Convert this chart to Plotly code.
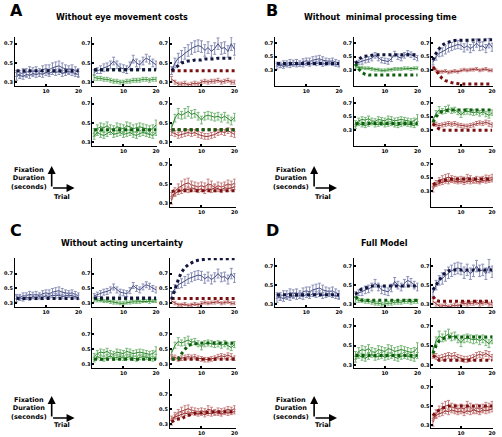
import plotly.graph_objects as go

trials = list(range(1, 21))

# ---------------- experimental data (same in every panel) ----------------
blue_bb1 = [0.36, 0.38, 0.40, 0.40, 0.42, 0.41, 0.42, 0.40, 0.43, 0.44, 0.43, 0.45, 0.46, 0.47, 0.45, 0.44, 0.43, 0.44, 0.42, 0.40]
blue_bb2 = [0.39, 0.37, 0.36, 0.38, 0.37, 0.39, 0.38, 0.39, 0.38, 0.40, 0.39, 0.41, 0.40, 0.41, 0.39, 0.40, 0.41, 0.40, 0.39, 0.38]
err_bb1 = [0.04, 0.04, 0.04, 0.04, 0.04, 0.04, 0.04, 0.04, 0.04, 0.04, 0.05, 0.05, 0.05, 0.05, 0.05, 0.04, 0.04, 0.04, 0.04, 0.04]
err_bb2 = [0.03, 0.03, 0.03, 0.03, 0.03, 0.03, 0.03, 0.03, 0.03, 0.03, 0.03, 0.03, 0.03, 0.03, 0.03, 0.03, 0.03, 0.03, 0.03, 0.03]

blue_bg = [0.40, 0.42, 0.43, 0.45, 0.46, 0.48, 0.52, 0.48, 0.45, 0.44, 0.43, 0.47, 0.54, 0.50, 0.48, 0.52, 0.55, 0.53, 0.50, 0.48]
green_bg = [0.35, 0.34, 0.34, 0.33, 0.33, 0.32, 0.31, 0.31, 0.30, 0.30, 0.31, 0.31, 0.32, 0.32, 0.32, 0.33, 0.33, 0.32, 0.33, 0.33]
err_blue_bg = [0.03, 0.03, 0.04, 0.04, 0.04, 0.04, 0.04, 0.04, 0.04, 0.04, 0.04, 0.04, 0.04, 0.04, 0.04, 0.04, 0.04, 0.04, 0.04, 0.04]
err_green_bg = [0.03, 0.02, 0.02, 0.02, 0.02, 0.02, 0.02, 0.02, 0.02, 0.02, 0.02, 0.02, 0.02, 0.02, 0.02, 0.02, 0.02, 0.02, 0.02, 0.02]

blue_br = [0.42, 0.50, 0.55, 0.57, 0.60, 0.63, 0.65, 0.67, 0.68, 0.67, 0.63, 0.66, 0.62, 0.65, 0.70, 0.65, 0.66, 0.62, 0.70, 0.64]
red_br = [0.33, 0.30, 0.28, 0.28, 0.29, 0.27, 0.28, 0.29, 0.28, 0.30, 0.31, 0.30, 0.31, 0.31, 0.32, 0.30, 0.31, 0.32, 0.30, 0.30]
err_blue_br = [0.04, 0.05, 0.05, 0.06, 0.06, 0.06, 0.06, 0.06, 0.06, 0.06, 0.06, 0.06, 0.06, 0.06, 0.06, 0.06, 0.06, 0.06, 0.07, 0.06]
err_red_br = [0.03, 0.02, 0.02, 0.02, 0.02, 0.02, 0.02, 0.02, 0.02, 0.02, 0.02, 0.02, 0.02, 0.02, 0.02, 0.02, 0.02, 0.02, 0.02, 0.02]

green_gg1 = [0.40, 0.44, 0.46, 0.45, 0.47, 0.44, 0.43, 0.46, 0.45, 0.44, 0.47, 0.46, 0.44, 0.45, 0.46, 0.45, 0.44, 0.43, 0.44, 0.48]
green_gg2 = [0.36, 0.40, 0.38, 0.37, 0.39, 0.41, 0.38, 0.39, 0.40, 0.38, 0.39, 0.40, 0.38, 0.37, 0.39, 0.40, 0.39, 0.38, 0.37, 0.40]
err_gg1 = [0.04, 0.04, 0.04, 0.04, 0.04, 0.04, 0.04, 0.04, 0.04, 0.04, 0.04, 0.04, 0.04, 0.04, 0.04, 0.04, 0.04, 0.04, 0.04, 0.05]
err_gg2 = [0.03, 0.03, 0.03, 0.03, 0.03, 0.03, 0.03, 0.03, 0.03, 0.03, 0.03, 0.03, 0.03, 0.03, 0.03, 0.03, 0.03, 0.03, 0.03, 0.03]

green_gr = [0.45, 0.55, 0.60, 0.58, 0.60, 0.62, 0.59, 0.60, 0.57, 0.53, 0.57, 0.58, 0.57, 0.56, 0.57, 0.55, 0.57, 0.54, 0.52, 0.56]
red_gr = [0.40, 0.39, 0.37, 0.38, 0.39, 0.40, 0.39, 0.40, 0.38, 0.37, 0.36, 0.36, 0.37, 0.38, 0.40, 0.41, 0.40, 0.42, 0.40, 0.38]
err_green_gr = [0.04, 0.04, 0.05, 0.04, 0.05, 0.05, 0.04, 0.04, 0.04, 0.04, 0.04, 0.04, 0.04, 0.04, 0.04, 0.04, 0.04, 0.04, 0.04, 0.04]
err_red_gr = [0.03, 0.03, 0.03, 0.03, 0.03, 0.03, 0.03, 0.03, 0.03, 0.03, 0.03, 0.03, 0.03, 0.03, 0.03, 0.03, 0.03, 0.03, 0.04, 0.03]

red_rr1 = [0.33, 0.42, 0.46, 0.48, 0.50, 0.51, 0.49, 0.48, 0.47, 0.48, 0.47, 0.50, 0.49, 0.46, 0.48, 0.47, 0.48, 0.50, 0.49, 0.51]
red_rr2 = [0.38, 0.40, 0.42, 0.43, 0.45, 0.44, 0.46, 0.45, 0.44, 0.45, 0.43, 0.45, 0.44, 0.46, 0.45, 0.44, 0.46, 0.45, 0.46, 0.47]
err_rr1 = [0.04, 0.04, 0.04, 0.05, 0.05, 0.05, 0.04, 0.04, 0.04, 0.04, 0.04, 0.05, 0.04, 0.04, 0.04, 0.04, 0.04, 0.04, 0.04, 0.04]
err_rr2 = [0.03, 0.03, 0.03, 0.03, 0.03, 0.03, 0.03, 0.03, 0.03, 0.03, 0.03, 0.03, 0.03, 0.03, 0.03, 0.03, 0.03, 0.03, 0.03, 0.03]

# ---------------- model predictions ----------------
# Panel A: without eye movement costs
A_bb = [0.42] * 20
A_bg_blue = [0.43] * 20
A_bg_green = [0.43] * 20
A_br_blue = [0.42, 0.45, 0.48, 0.50, 0.51, 0.52, 0.52, 0.53, 0.53, 0.53, 0.54, 0.54, 0.54, 0.54, 0.55, 0.55, 0.55, 0.55, 0.55, 0.55]
A_br_red = [0.42] * 20
A_gg = [0.43] * 20
A_gr_green = [0.43] * 20
A_gr_red = [0.43] * 20
A_rr = [0.42, 0.43, 0.43, 0.43, 0.43, 0.43, 0.43, 0.43, 0.43, 0.43, 0.43, 0.43, 0.43, 0.43, 0.43, 0.43, 0.43, 0.43, 0.43, 0.43]

# Panel B: without minimal processing time
B_bb = [0.40] * 20
B_bg_blue = [0.40, 0.46, 0.50, 0.51, 0.52, 0.52, 0.53, 0.53, 0.53, 0.53, 0.53, 0.53, 0.53, 0.53, 0.53, 0.53, 0.53, 0.53, 0.53, 0.53]
B_bg_green = [0.40, 0.32, 0.27, 0.24, 0.23, 0.23, 0.23, 0.23, 0.23, 0.23, 0.23, 0.23, 0.23, 0.23, 0.23, 0.23, 0.23, 0.23, 0.23, 0.23]
B_br_blue = [0.45, 0.55, 0.62, 0.67, 0.70, 0.72, 0.73, 0.74, 0.74, 0.75, 0.75, 0.75, 0.75, 0.75, 0.75, 0.75, 0.75, 0.75, 0.75, 0.75]
B_br_red = [0.35, 0.30, 0.23, 0.18, 0.15, 0.13, 0.12, 0.11, 0.10, 0.10, 0.10, 0.10, 0.10, 0.10, 0.10, 0.10, 0.10, 0.10, 0.10, 0.10]
B_gg = [0.40] * 20
B_gr_green = [0.42, 0.50, 0.55, 0.58, 0.59, 0.60, 0.60, 0.60, 0.60, 0.60, 0.60, 0.60, 0.60, 0.60, 0.60, 0.60, 0.60, 0.60, 0.60, 0.60]
B_gr_red = [0.40, 0.35, 0.32, 0.30, 0.30, 0.30, 0.30, 0.30, 0.30, 0.30, 0.30, 0.30, 0.30, 0.30, 0.30, 0.30, 0.30, 0.30, 0.30, 0.30]
B_rr = [0.40, 0.43, 0.45, 0.46, 0.47, 0.48, 0.48, 0.48, 0.48, 0.48, 0.48, 0.48, 0.48, 0.48, 0.48, 0.48, 0.48, 0.48, 0.48, 0.48]

# Panel C: without acting uncertainty
C_bb = [0.365] * 20
C_bg_blue = [0.37] * 20
C_bg_green = [0.36] * 20
C_br_blue = [0.35, 0.50, 0.62, 0.72, 0.78, 0.82, 0.85, 0.87, 0.88, 0.89, 0.89, 0.90, 0.90, 0.90, 0.90, 0.90, 0.90, 0.90, 0.90, 0.90]
C_br_red = [0.365] * 20
C_gg = [0.367] * 20
C_gr_green = [0.37, 0.37, 0.37, 0.44, 0.50, 0.55, 0.56, 0.57, 0.58, 0.58, 0.58, 0.58, 0.58, 0.58, 0.58, 0.58, 0.58, 0.58, 0.58, 0.58]
C_gr_red = [0.367] * 20
C_rr = [0.33, 0.36, 0.37, 0.37, 0.40, 0.42, 0.44, 0.45, 0.45, 0.46, 0.46, 0.46, 0.47, 0.47, 0.47, 0.47, 0.47, 0.47, 0.47, 0.47]

# Panel D: full model
D_bb = [0.40] * 20
D_bg_blue = [0.40, 0.44, 0.46, 0.47, 0.48, 0.49, 0.49, 0.49, 0.49, 0.49, 0.49, 0.49, 0.49, 0.49, 0.49, 0.49, 0.49, 0.49, 0.49, 0.49]
D_bg_green = [0.38, 0.35, 0.34, 0.34, 0.34, 0.34, 0.34, 0.34, 0.34, 0.34, 0.34, 0.34, 0.34, 0.34, 0.34, 0.34, 0.34, 0.34, 0.34, 0.34]
D_br_blue = [0.45, 0.50, 0.55, 0.60, 0.63, 0.65, 0.66, 0.66, 0.66, 0.66, 0.66, 0.66, 0.66, 0.66, 0.66, 0.66, 0.66, 0.66, 0.66, 0.66]
D_br_red = [0.38, 0.34, 0.33, 0.33, 0.33, 0.33, 0.33, 0.33, 0.33, 0.33, 0.33, 0.33, 0.33, 0.33, 0.33, 0.33, 0.33, 0.33, 0.33, 0.33]
D_gg = [0.40] * 20
D_gr_green = [0.42, 0.50, 0.55, 0.57, 0.58, 0.59, 0.59, 0.59, 0.59, 0.59, 0.59, 0.59, 0.59, 0.59, 0.59, 0.59, 0.59, 0.59, 0.59, 0.59]
D_gr_red = [0.40, 0.37, 0.35, 0.35, 0.35, 0.35, 0.35, 0.35, 0.35, 0.35, 0.35, 0.35, 0.35, 0.35, 0.35, 0.35, 0.35, 0.35, 0.35, 0.35]
D_rr = [0.40, 0.44, 0.46, 0.48, 0.49, 0.50, 0.50, 0.50, 0.50, 0.50, 0.50, 0.50, 0.50, 0.50, 0.50, 0.50, 0.50, 0.50, 0.50, 0.50]

panel_titles = ["Without eye movement costs", "Without  minimal processing time",
                "Without acting uncertainty", "Full Model"]
panel_letters = ["A", "B", "C", "D"]
x_tick_vals = [10, 20]
y_tick_vals = [0.3, 0.5, 0.7]
y_tick_text = ["0.3", "0.5", "0.7"]
y_ranges = {"A": [0.26, 0.77], "B": [0.07, 0.79], "C": [0.25, 0.91], "D": [0.27, 0.785]}

# ---------------- styling ----------------
W, H = 502, 437
COL = {
    "blue": ("#474e82", "#8a90b8", "#12163f"),
    "green": ("#2c872c", "#78b878", "#0d5e0d"),
    "red": ("#973232", "#c98080", "#7a0f0f"),
}

data_cells = {
    (0, 0): [(blue_bb1, err_bb1, "blue"), (blue_bb2, err_bb2, "blue")],
    (0, 1): [(blue_bg, err_blue_bg, "blue"), (green_bg, err_green_bg, "green")],
    (0, 2): [(blue_br, err_blue_br, "blue"), (red_br, err_red_br, "red")],
    (1, 1): [(green_gg1, err_gg1, "green"), (green_gg2, err_gg2, "green")],
    (1, 2): [(green_gr, err_green_gr, "green"), (red_gr, err_red_gr, "red")],
    (2, 2): [(red_rr1, err_rr1, "red"), (red_rr2, err_rr2, "red")],
}

model_cells = {
    "A": {(0, 0): [(A_bb, "blue")], (0, 1): [(A_bg_green, "green"), (A_bg_blue, "blue")],
          (0, 2): [(A_br_red, "red"), (A_br_blue, "blue")], (1, 1): [(A_gg, "green")],
          (1, 2): [(A_gr_red, "red"), (A_gr_green, "green")], (2, 2): [(A_rr, "red")]},
    "B": {(0, 0): [(B_bb, "blue")], (0, 1): [(B_bg_green, "green"), (B_bg_blue, "blue")],
          (0, 2): [(B_br_red, "red"), (B_br_blue, "blue")], (1, 1): [(B_gg, "green")],
          (1, 2): [(B_gr_red, "red"), (B_gr_green, "green")], (2, 2): [(B_rr, "red")]},
    "C": {(0, 0): [(C_bb, "blue")], (0, 1): [(C_bg_green, "green"), (C_bg_blue, "blue")],
          (0, 2): [(C_br_red, "red"), (C_br_blue, "blue")], (1, 1): [(C_gg, "green")],
          (1, 2): [(C_gr_red, "red"), (C_gr_green, "green")], (2, 2): [(C_rr, "red")]},
    "D": {(0, 0): [(D_bb, "blue")], (0, 1): [(D_bg_green, "green"), (D_bg_blue, "blue")],
          (0, 2): [(D_br_red, "red"), (D_br_blue, "blue")], (1, 1): [(D_gg, "green")],
          (1, 2): [(D_gr_red, "red"), (D_gr_green, "green")], (2, 2): [(D_rr, "red")]},
}

# pixel geometry of each panel
cols_left = [(15, 80), (93, 158), (171, 237)]
cols_right = [(277, 342), (356, 421), (434, 496)]
rows_top = [(37, 86), (97, 146), (158, 207)]
rows_bottom = [(258, 307), (318, 368), (379, 428)]
panel_geom = {
    "A": (cols_left, rows_top, (123, 18), (8, 10), (29, 164), (52, 188), (62, 197)),
    "B": (cols_right, rows_top, (383, 18), (266, 10), (293, 164), (316, 188), (325, 197)),
    "C": (cols_left, rows_bottom, (123, 243), (8, 231), (29, 394), (52, 418), (62, 425)),
    "D": (cols_right, rows_bottom, (387, 243), (266, 231), (293, 394), (316, 418), (325, 425)),
}

def px(x):
    return x / W

def py(y):
    return 1 - y / H

fig = go.Figure()
layout = {}
annotations = []
tickfont = dict(size=5, color="black", family="DejaVu Sans", weight="bold")
n = 0
for pi, key in enumerate(["A", "B", "C", "D"]):
    cols, rows, tpos, lpos, fpos, apos, trpos = panel_geom[key]
    for (r, c) in [(0, 0), (0, 1), (0, 2), (1, 1), (1, 2), (2, 2)]:
        n += 1
        xa = "x" if n == 1 else f"x{n}"
        ya = "y" if n == 1 else f"y{n}"
        xname = "xaxis" if n == 1 else f"xaxis{n}"
        yname = "yaxis" if n == 1 else f"yaxis{n}"
        x0, x1 = cols[c]
        y0, y1 = rows[r]
        layout[xname] = dict(domain=[px(x0), px(x1)], anchor=ya, range=[0.5, 20.3],
                             showline=True, linecolor="black", linewidth=1, showgrid=False,
                             zeroline=False, ticks="inside", ticklen=2, tickwidth=2,
                             tickcolor="black", tickvals=x_tick_vals, tickfont=tickfont)
        layout[yname] = dict(domain=[py(y1), py(y0)], anchor=xa, range=y_ranges[key],
                             showline=True, linecolor="black", linewidth=1, showgrid=False,
                             zeroline=False, ticks="inside", ticklen=2, tickwidth=2,
                             tickcolor="black", tickvals=y_tick_vals,
                             ticktext=y_tick_text, tickfont=tickfont)
        for vals, errs, cname in data_cells[(r, c)]:
            main, light, dark = COL[cname]
            fig.add_trace(go.Scatter(
                x=trials, y=vals, xaxis=xa, yaxis=ya, mode="lines",
                line=dict(color=main, width=1),
                error_y=dict(type="data", array=errs, color=light, thickness=1, width=1.5),
                showlegend=False, hoverinfo="skip"))
        for vals, cname in model_cells[key][(r, c)]:
            main, light, dark = COL[cname]
            fig.add_trace(go.Scatter(
                x=trials, y=vals, xaxis=xa, yaxis=ya, mode="lines",
                line=dict(color=dark, width=3, dash="3px,3px"),
                showlegend=False, hoverinfo="skip"))
    # texts
    annotations.append(dict(text=f"<b>{panel_letters[pi]}</b>", x=px(lpos[0]), y=py(lpos[1]),
                            xref="paper", yref="paper", showarrow=False, xanchor="left",
                            yanchor="middle", font=dict(size=16, family="DejaVu Sans", color="black")))
    annotations.append(dict(text=f"<b>{panel_titles[pi]}</b>", x=px(tpos[0]), y=py(tpos[1]),
                            xref="paper", yref="paper", showarrow=False, xanchor="center",
                            yanchor="middle", font=dict(size=8, family="DejaVu Sans", color="black")))
    annotations.append(dict(text="<b>Fixation<br>Duration<br>(seconds)</b>", x=px(fpos[0]), y=py(fpos[1]),
                            xref="paper", yref="paper", showarrow=False, xanchor="center",
                            yanchor="top", align="center",
                            font=dict(size=6.5, family="DejaVu Sans", color="black")))
    annotations.append(dict(text="<b>Trial</b>", x=px(trpos[0]), y=py(trpos[1]),
                            xref="paper", yref="paper", showarrow=False, xanchor="center",
                            yanchor="middle", font=dict(size=6.5, family="DejaVu Sans", color="black")))
    ax0, ay0 = apos
    annotations.append(dict(text="", x=px(ax0), y=py(ay0 - 22), xref="paper", yref="paper",
                            showarrow=True, ax=0, ay=22, arrowhead=2, arrowsize=1, arrowwidth=1.6,
                            arrowcolor="black", standoff=0, startstandoff=0))
    annotations.append(dict(text="", x=px(ax0 + 23), y=py(ay0), xref="paper", yref="paper",
                            showarrow=True, ax=-23, ay=0, arrowhead=2, arrowsize=1, arrowwidth=1.6,
                            arrowcolor="black", standoff=0, startstandoff=0))

fig.update_layout(width=W, height=H, margin=dict(l=0, r=0, t=0, b=0),
                  paper_bgcolor="white", plot_bgcolor="white",
                  annotations=annotations, **layout)
fig.write_html("out.html", config={"displayModeBar": False},
               post_script="document.body.style.margin='0';document.body.style.overflow='hidden';")
